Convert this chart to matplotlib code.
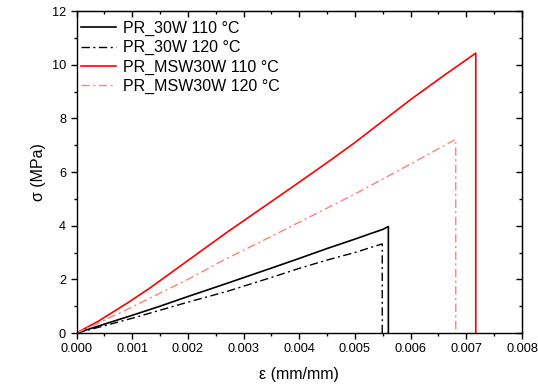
import matplotlib
matplotlib.use("Agg")
import matplotlib.pyplot as plt
from matplotlib.ticker import MultipleLocator, FormatStrFormatter

plt.rcParams['font.family'] = ['Liberation Sans', 'DejaVu Sans']

# PR_30W 110 °C
pr30_110_x = [0, 0.0005, 0.001, 0.0015, 0.002, 0.0027, 0.0035, 0.004, 0.0045, 0.005, 0.0053, 0.0055, 0.0056, 0.0056]
pr30_110_y = [0, 0.33, 0.66, 1.0, 1.36, 1.85, 2.42, 2.78, 3.15, 3.5, 3.72, 3.86, 3.97, 0]
# PR_30W 120 °C
pr30_120_x = [0, 0.0005, 0.001, 0.0015, 0.002, 0.0027, 0.0035, 0.004, 0.0045, 0.005, 0.0053, 0.00549, 0.00549]
pr30_120_y = [0, 0.27, 0.55, 0.85, 1.15, 1.55, 2.07, 2.41, 2.72, 3.0, 3.2, 3.32, 0]
# PR_MSW30W 110 °C
msw_110_x = [0, 0.0004, 0.0009, 0.0013, 0.002, 0.0027, 0.0035, 0.004, 0.0045, 0.005, 0.0055, 0.006, 0.0066, 0.00717, 0.00717]
msw_110_y = [0, 0.45, 1.1, 1.65, 2.7, 3.75, 4.9, 5.62, 6.35, 7.1, 7.9, 8.7, 9.6, 10.43, 0]
# PR_MSW30W 120 °C
msw_120_x = [0, 0.0004, 0.0009, 0.0013, 0.002, 0.0027, 0.0035, 0.004, 0.005, 0.006, 0.00681, 0.00681]
msw_120_y = [0, 0.38, 0.87, 1.28, 2.0, 2.78, 3.6, 4.13, 5.18, 6.3, 7.22, 0]

labels = ['PR_30W 110 °C', 'PR_30W 120 °C', 'PR_MSW30W 110 °C', 'PR_MSW30W 120 °C']

fig = plt.figure(figsize=(5.38, 3.85), dpi=100)
ax = fig.add_axes([0.1422, 0.135, 0.8281, 0.8364])

dashdot = (0, (6, 2.5, 1.5, 2.5))
ax.plot(pr30_110_x, pr30_110_y, color='black', lw=1.2, label=labels[0])
ax.plot(pr30_120_x, pr30_120_y, color='black', lw=1.0, linestyle=dashdot, label=labels[1])
ax.plot(msw_110_x, msw_110_y, color='#ff0000', lw=1.2, label=labels[2])
ax.plot(msw_120_x, msw_120_y, color='#ff8080', lw=1.0, linestyle=dashdot, label=labels[3])

ax.set_xlim(0, 0.008)
ax.set_ylim(0, 12)
ax.xaxis.set_major_locator(MultipleLocator(0.001))
ax.xaxis.set_minor_locator(MultipleLocator(0.0005))
ax.xaxis.set_major_formatter(FormatStrFormatter('%.3f'))
ax.yaxis.set_major_locator(MultipleLocator(2))
ax.yaxis.set_minor_locator(MultipleLocator(1))

for s in ax.spines.values():
    s.set_linewidth(1.0)

ax.tick_params(which='both', bottom=True, left=True, top=False, right=False,
               direction='out', labelsize=9.2, width=1.0)
ax.tick_params(which='major', length=4)
ax.tick_params(which='minor', length=2.5)

# inward ticks on top and right
axt = ax.secondary_xaxis('top')
axt.xaxis.set_major_locator(MultipleLocator(0.001))
axt.xaxis.set_minor_locator(MultipleLocator(0.0005))
axt.tick_params(which='both', direction='in', labeltop=False, width=1.0)
axt.tick_params(which='major', length=4)
axt.tick_params(which='minor', length=2.5)
axr = ax.secondary_yaxis('right')
axr.yaxis.set_major_locator(MultipleLocator(2))
axr.yaxis.set_minor_locator(MultipleLocator(1))
axr.tick_params(which='both', direction='in', labelright=False, width=1.0)
axr.tick_params(which='major', length=4)
axr.tick_params(which='minor', length=2.5)

ax.set_xlabel('ε (mm/mm)', fontsize=11.5, labelpad=8)
ax.set_ylabel('σ (MPa)', fontsize=11.5, labelpad=4)

ax.legend(loc='upper left', bbox_to_anchor=(0.009, 0.97), frameon=False,
          fontsize=11.5, handlelength=2.25, handletextpad=0.4,
          borderpad=0, borderaxespad=0, labelspacing=0.27)

fig.savefig('out.png', dpi=100)
